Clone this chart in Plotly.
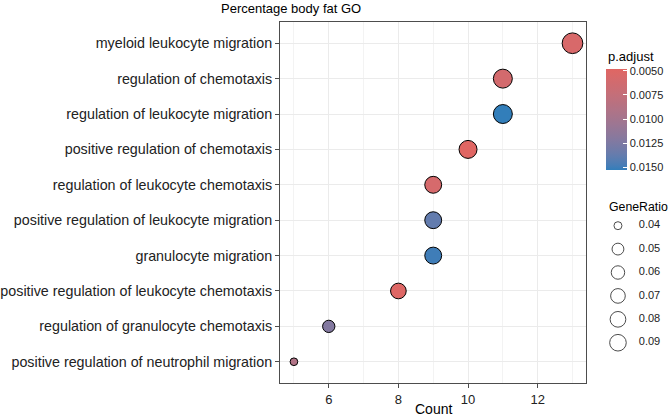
import plotly.graph_objects as go

# ---------------- data ----------------
terms = [
    "myeloid leukocyte migration",
    "regulation of chemotaxis",
    "regulation of leukocyte migration",
    "positive regulation of chemotaxis",
    "regulation of leukocyte chemotaxis",
    "positive regulation of leukocyte migration",
    "granulocyte migration",
    "positive regulation of leukocyte chemotaxis",
    "regulation of granulocyte chemotaxis",
    "positive regulation of neutrophil migration",
]
counts = [13, 11, 11, 10, 9, 9, 9, 8, 6, 5]
gene_ratio = [0.0929, 0.0786, 0.0786, 0.0714, 0.0643, 0.0643, 0.0643, 0.0571, 0.0429, 0.0357]
p_adjust = [0.0056, 0.0060, 0.0153, 0.0048, 0.0058, 0.0138, 0.0150, 0.0050, 0.0122, 0.0090]

x_ticks = [6, 8, 10, 12]
cbar_ticks = [0.0050, 0.0075, 0.0100, 0.0125, 0.0150]
cbar_labels = ["0.0050", "0.0075", "0.0100", "0.0125", "0.0150"]
size_breaks = [0.04, 0.05, 0.06, 0.07, 0.08, 0.09]
size_labels = ["0.04", "0.05", "0.06", "0.07", "0.08", "0.09"]

title = "Percentage body fat GO"

# ---------------- style helpers ----------------
W, H = 669, 416
ML, MT, MB = 278, 22, 33
PW = W - ML
PH = H - MT - MB
PANEL_R = 586


def px_x(px):
    return (px - ML) / PW


def px_y(py):
    return (H - MB - py) / PH


def hex2rgb(h):
    h = h.lstrip("#")
    return [int(h[i:i + 2], 16) / 255 for i in (0, 2, 4)]


def srgb2lin(c):
    return c / 12.92 if c <= 0.04045 else ((c + 0.055) / 1.055) ** 2.4


def lin2srgb(c):
    c = max(0.0, min(1.0, c))
    return 12.92 * c if c <= 0.0031308 else 1.055 * c ** (1 / 2.4) - 0.055


def rgb2lab(rgb):
    r, g, b = [srgb2lin(c) for c in rgb]
    X = (0.4124 * r + 0.3576 * g + 0.1805 * b) / 0.95047
    Y = (0.2126 * r + 0.7152 * g + 0.0722 * b)
    Z = (0.0193 * r + 0.1192 * g + 0.9505 * b) / 1.08883
    f = lambda t: t ** (1 / 3) if t > 0.008856 else 7.787 * t + 16 / 116
    fx, fy, fz = f(X), f(Y), f(Z)
    return [116 * fy - 16, 500 * (fx - fy), 200 * (fy - fz)]


def lab2rgb(lab):
    L, a, b = lab
    fy = (L + 16) / 116
    fx = fy + a / 500
    fz = fy - b / 200
    finv = lambda t: t ** 3 if t ** 3 > 0.008856 else (t - 16 / 116) / 7.787
    X, Y, Z = finv(fx) * 0.95047, finv(fy), finv(fz) * 1.08883
    r = 3.2406 * X - 1.5372 * Y - 0.4986 * Z
    g = -0.9689 * X + 1.8758 * Y + 0.0415 * Z
    bb = 0.0557 * X - 0.2040 * Y + 1.0570 * Z
    return [round(lin2srgb(c) * 255) for c in (r, g, bb)]


# colour runs low p.adjust (red) -> high p.adjust (blue); colorbar shown reversed
LOW, HIGH = "#e06663", "#327eba"
la, lb = rgb2lab(hex2rgb(LOW)), rgb2lab(hex2rgb(HIGH))
colorscale = []
n = 20
for i in range(n + 1):
    t = i / n  # t=0 -> most negative (= highest p.adjust) -> blue
    lab = [lb[k] + (la[k] - lb[k]) * t for k in range(3)]
    r, g, b = lab2rgb(lab)
    colorscale.append([t, f"rgb({r},{g},{b})"])

CMIN, CMAX = 0.0048, 0.0153

# point diameters (area-style scaling like ggplot scale_size)
gmin, gmax = min(gene_ratio), max(gene_ratio)
DMIN, DMAX = 8.7, 21.7


def diam(g):
    return DMIN + (DMAX - DMIN) * ((g - gmin) / (gmax - gmin)) ** 0.5


def leg_diam(g):
    return 9.0 + 8.6 * ((g - size_breaks[0]) / (size_breaks[-1] - size_breaks[0])) ** 0.5


FONT = "Liberation Sans, Arial, Helvetica, sans-serif"
GRID = "#EBEBEB"
BORDER = "#4D4D4D"

fig = go.Figure()

# main dot plot (negated colour values so the colorbar reads top = small p.adjust)
fig.add_trace(go.Scatter(
    x=counts, y=terms, mode="markers",
    marker=dict(
        size=[diam(g) - 1 for g in gene_ratio],
        color=[-v for v in p_adjust], colorscale=colorscale, cmin=-CMAX, cmax=-CMIN,
        line=dict(color="black", width=1),
        opacity=1,
        colorbar=dict(
            thickness=21, len=101, lenmode="pixels",
            x=px_x(605.7), xanchor="left", y=px_y(119.5), yanchor="middle",
            xpad=0, ypad=0, outlinewidth=0,
            tickvals=[-v for v in cbar_ticks], ticktext=cbar_labels,
            ticks="inside", ticklen=4, tickcolor="white", tickwidth=1,
            tickfont=dict(size=11, color="#222", family=FONT),
        ),
    ),
    text=[f"p.adjust={v}" for v in p_adjust],
    showlegend=False, hoverinfo="x+y+text",
))

# size legend (separate hidden axes)
fig.add_trace(go.Scatter(
    x=[0.2565] * len(size_breaks), y=size_breaks, mode="markers",
    marker=dict(size=[leg_diam(g) - 1 for g in size_breaks], color="rgba(0,0,0,0)",
                line=dict(color="black", width=1)),
    xaxis="x2", yaxis="y2", showlegend=False, hoverinfo="skip",
))
fig.add_trace(go.Scatter(
    x=[0.56] * len(size_breaks), y=size_breaks, mode="text", text=size_labels,
    textposition="middle right", textfont=dict(size=11, color="#222", family=FONT),
    xaxis="x2", yaxis="y2", showlegend=False, hoverinfo="skip",
))

# left-side colorbar tick marks (ggplot draws both sides)
bar_top, bar_bot = 69.0, 170.0
for v in cbar_ticks:
    py = bar_top + (v - CMIN) / (CMAX - CMIN) * (bar_bot - bar_top)
    fig.add_shape(type="line", xref="paper", yref="paper",
                  x0=px_x(605.7), x1=px_x(609.7), y0=px_y(py), y1=px_y(py),
                  line=dict(color="white", width=1))

annots = [
    dict(text=title, x=px_x(217), y=px_y(9), xanchor="left", yanchor="middle",
         font=dict(size=13, color="black", family=FONT)),
    dict(text="Count", x=px_x(432), y=px_y(409), xanchor="center", yanchor="middle",
         font=dict(size=14, color="black", family=FONT)),
    dict(text="p.adjust", x=px_x(606), y=px_y(57), xanchor="left", yanchor="middle",
         font=dict(size=13, color="black", family=FONT)),
    dict(text="GeneRatio", x=px_x(607), y=px_y(207), xanchor="left", yanchor="middle",
         font=dict(size=12.3, color="black", family=FONT)),
]
for a in annots:
    a.update(xref="paper", yref="paper", showarrow=False)

fig.update_layout(
    width=W, height=H,
    margin=dict(l=ML, r=0, t=MT, b=MB, pad=0),
    paper_bgcolor="white", plot_bgcolor="white",
    font=dict(family=FONT, color="black"),
    annotations=annots,
    xaxis=dict(
        domain=[0, px_x(PANEL_R)], range=[4.6, 13.4],
        tickvals=x_ticks, ticks="outside", ticklen=4, tickcolor=BORDER,
        tickfont=dict(size=13, color="#222"),
        showgrid=True, gridcolor=GRID, gridwidth=1,
        minor=dict(dtick=2, tick0=5, showgrid=True, gridcolor="#F3F3F3", gridwidth=0.6, ticks=""),
        showline=True, mirror=True, linecolor=BORDER, linewidth=1,
        zeroline=False,
    ),
    yaxis=dict(
        categoryorder="array", categoryarray=terms, range=[9.6, -0.6],
        ticks="outside", ticklen=4, tickcolor=BORDER,
        tickfont=dict(size=14.3, color="#222"),
        showgrid=True, gridcolor=GRID, gridwidth=1,
        showline=True, mirror=True, linecolor=BORDER, linewidth=1,
        zeroline=False,
    ),
    xaxis2=dict(domain=[px_x(600), 1], range=[0, 1], visible=False, anchor="y2"),
    yaxis2=dict(domain=[0, 1], range=[0.1072, -0.0470], visible=False, anchor="x2"),
)

fig.write_html("out.html")
